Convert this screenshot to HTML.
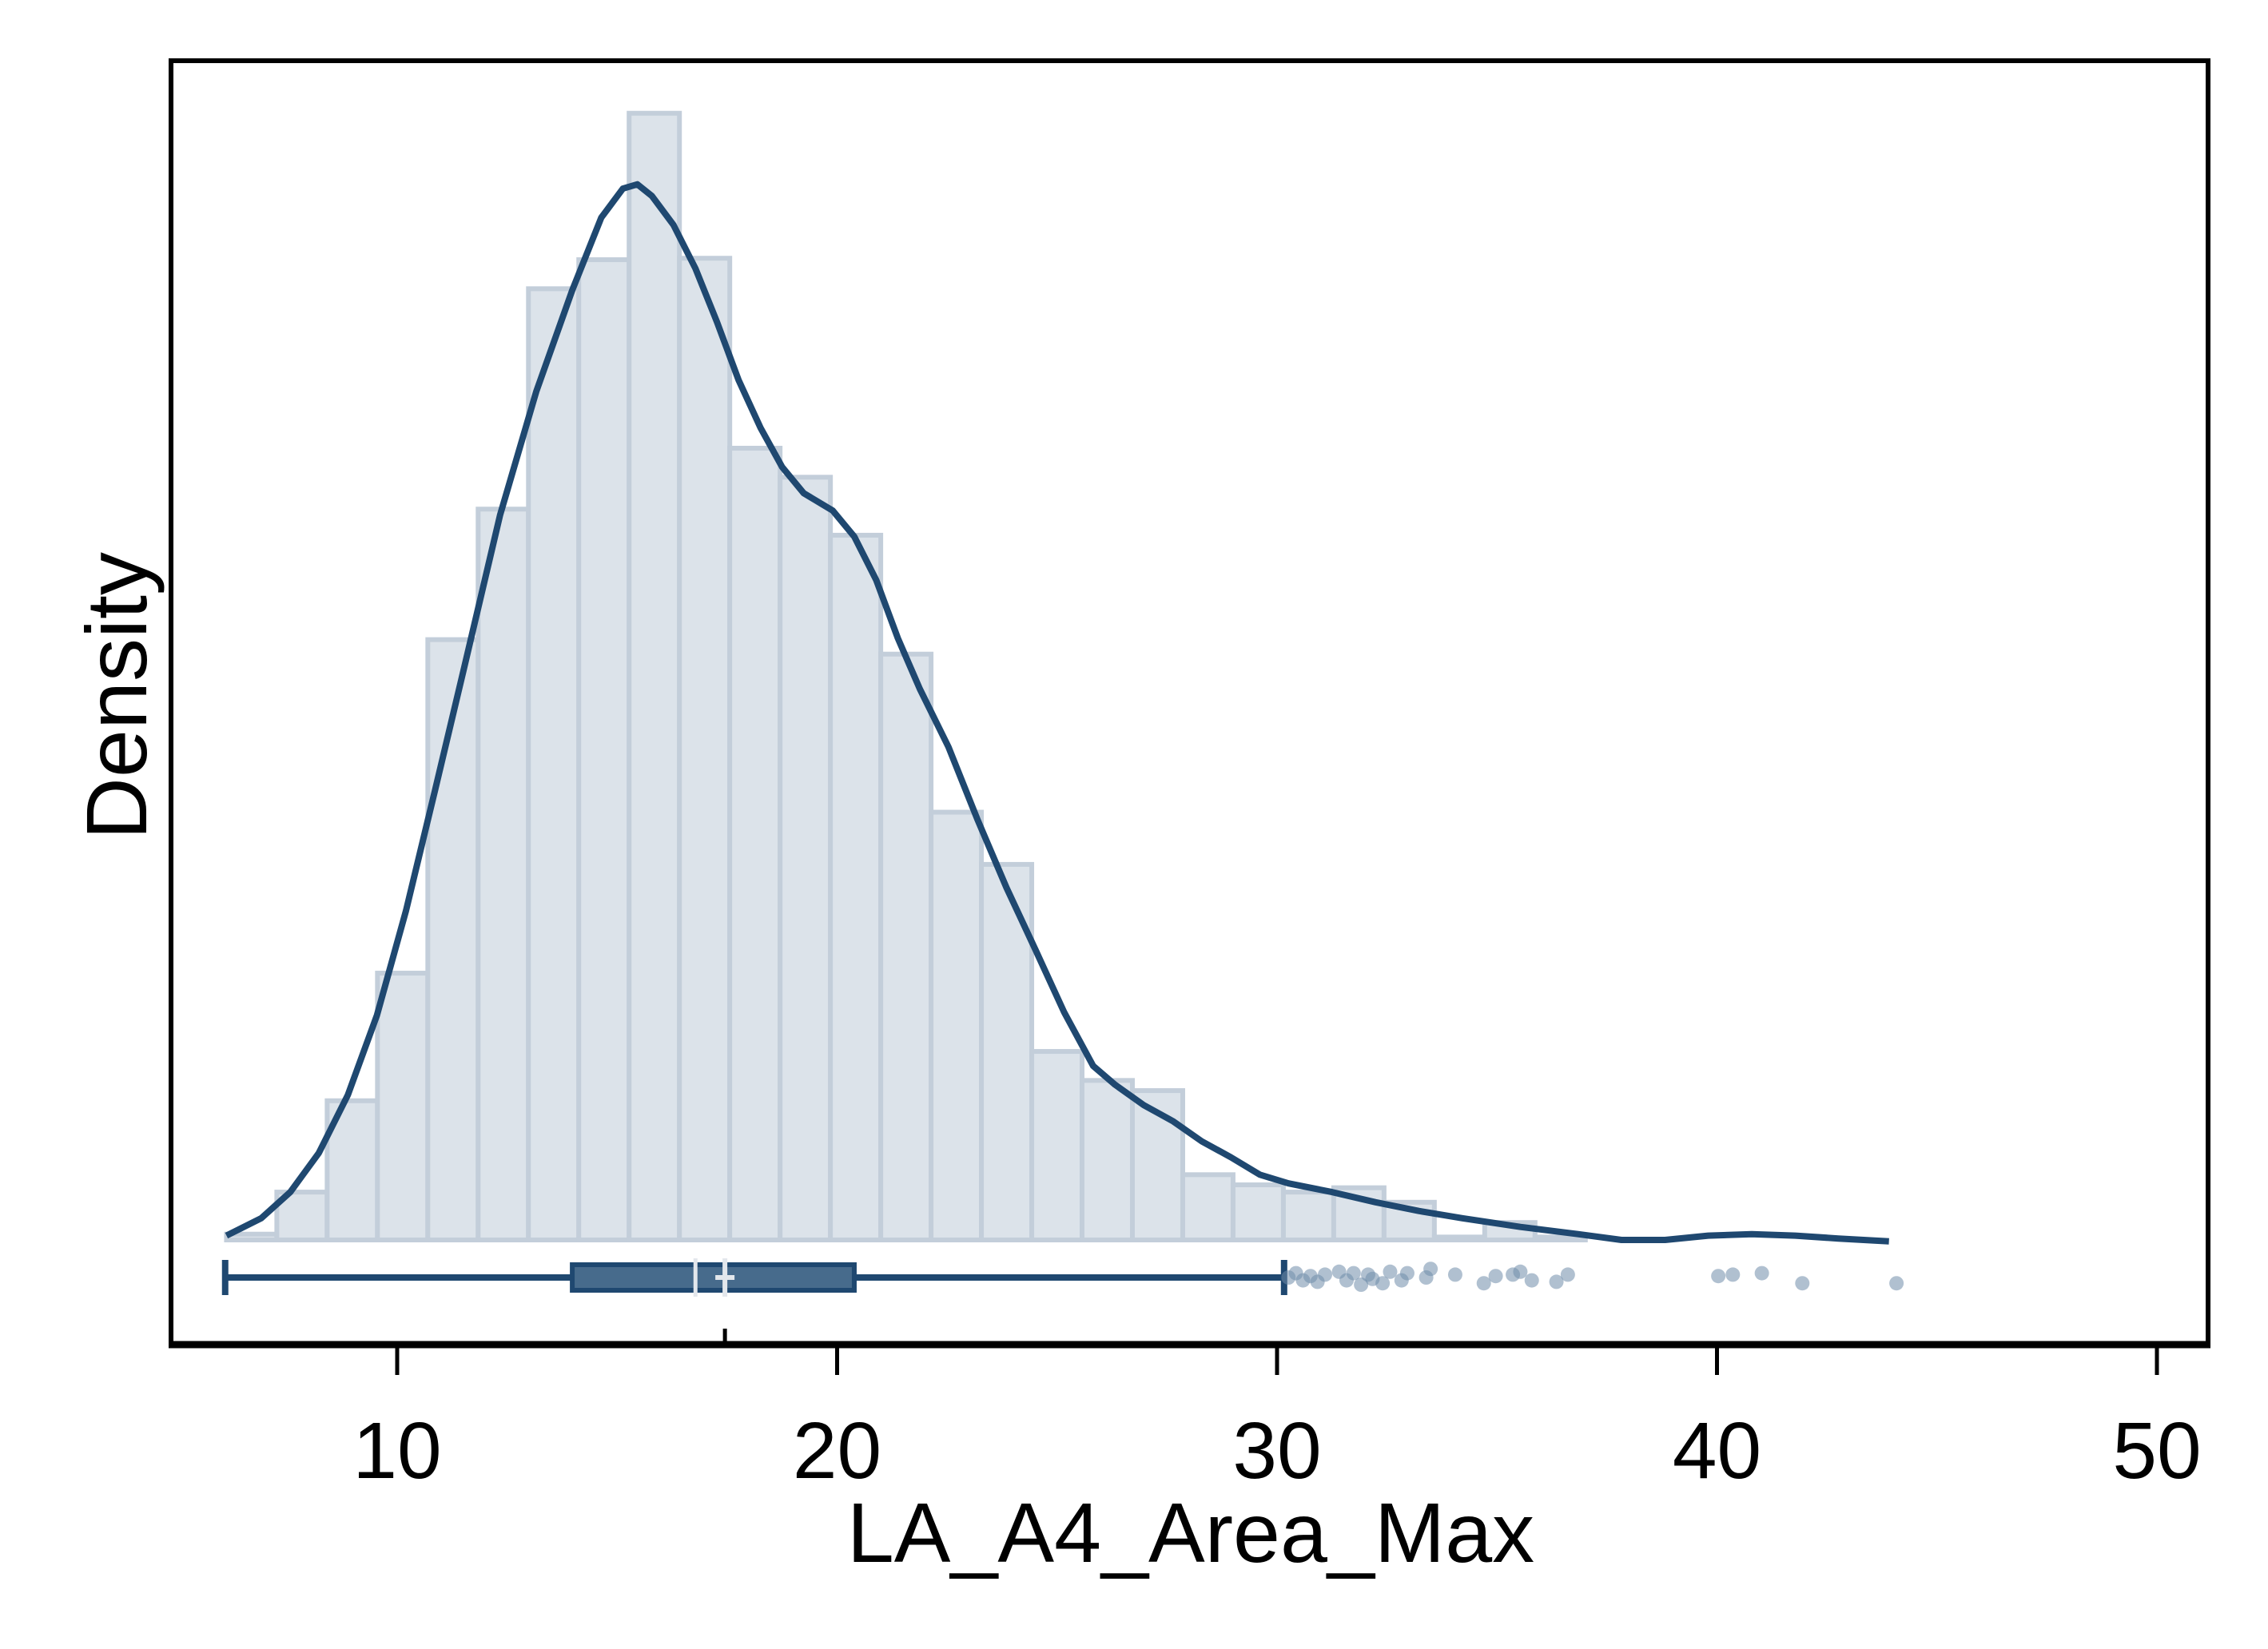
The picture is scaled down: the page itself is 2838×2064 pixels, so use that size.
<!DOCTYPE html>
<html><head><meta charset="utf-8"><style>
html,body{margin:0;padding:0;background:#fff}
svg{display:block}
text{font-family:"Liberation Sans",sans-serif;fill:#000}
</style></head><body>
<svg id="chart" xmlns="http://www.w3.org/2000/svg" width="2838" height="2064" viewBox="0 0 2838 2064">
<rect x="0" y="0" width="2838" height="2064" fill="#fff"/>
<g id="bars"></g>
<g id="kde"></g>
<g id="box"></g>
<g id="axes"></g>
<text x="1490" y="1955" font-size="106" text-anchor="middle">LA_A4_Area_Max</text>
<text transform="translate(183,871) rotate(-90)" font-size="108" text-anchor="middle">Density</text>
</svg>
<script>
const binStart = 6.12;
const binWidth = 1.144;
const binCounts = [4,33,96,184,414,504,656,676,777,677,546,526,486,404,295,259,130,110,103,45,38,33,36,26,2,12,2,0,0,0,0,0,0,0];
const kdeX = [6.12,6.91,7.57,8.22,8.88,9.54,10.20,10.86,11.51,12.34,13.16,13.98,14.64,15.13,15.46,15.79,16.28,16.78,17.27,17.76,18.26,18.75,19.24,19.90,20.39,20.89,21.38,21.88,22.53,23.19,23.85,24.51,25.16,25.82,26.32,26.97,27.63,28.29,28.95,29.61,30.26,31.25,32.24,33.22,34.21,35.53,36.84,37.83,38.82,39.80,40.79,41.78,42.76,43.91];
const kdeY = [3,15,33,60,100,155,227,310,393,500,585,655,705,725,728,720,700,670,633,593,560,533,515,503,485,455,415,380,340,290,243,200,157,120,107,93,82,68,57,45,39,33,26,20,15,9,4,0,0,3,4,3,1,-1];
const boxStats = [6.09, 13.98, 16.78, 20.39, 30.16];
const meanValue = 17.45;
const outliers = [30.26,30.43,30.59,30.76,30.92,31.09,31.41,31.58,31.74,31.91,32.07,32.17,32.40,32.57,32.83,32.96,33.39,33.49,34.05,34.70,34.97,35.36,35.53,35.79,36.35,36.61,40.03,40.36,41.02,41.94,44.08];
const outlierJitter = [0,-3,2,-1,3,-2,-4,2,-3,5,-2,1,4,-4,2,-3,0,-6,-2,4,-1,-2,-4,2,3,-2,-1,-2,-3,4,4];
const xTicks = [10,20,30,40,50];

const NS = "http://www.w3.org/2000/svg";
const X0 = 497, PXU = 55.05;
function xs(v){ return X0 + (v - 10) * PXU; }
const BASE = 1552, PYU = 1.815;
function ys(c){ return BASE - c * PYU; }
function mk(tag, attrs, parent){
  const e = document.createElementNS(NS, tag);
  for (const k in attrs) e.setAttribute(k, attrs[k]);
  parent.appendChild(e);
  return e;
}
const bars = document.getElementById('bars');
binCounts.forEach((c, i) => {
  if (c <= 0) return;
  const x1 = xs(binStart + i * binWidth), x2 = xs(binStart + (i + 1) * binWidth);
  const r = mk('rect', {x: x1, y: ys(c), width: x2 - x1, height: BASE - ys(c), fill: '#dce3ea', stroke: '#c3ceda', 'stroke-width': 6}, bars);
  
  
});
const kde = document.getElementById('kde');
let d = '';
kdeX.forEach((v, i) => { d += (i ? 'L' : 'M') + xs(v).toFixed(1) + ',' + ys(kdeY[i]).toFixed(1); });
const kp = mk('path', {d: d, fill: 'none', stroke: '#1f4870', 'stroke-width': 8, 'stroke-linejoin': 'round'}, kde);



const box = document.getElementById('box');
const BY = 1599;
const wl = mk('line', {x1: xs(boxStats[0]), x2: xs(boxStats[4]), y1: BY, y2: BY, stroke: '#1f4870', 'stroke-width': 8}, box);


[boxStats[0], boxStats[4]].forEach(v => {
  const c = mk('line', {x1: xs(v), x2: xs(v), y1: BY - 22, y2: BY + 22, stroke: '#1f4870', 'stroke-width': 8}, box);
  
  
});
const br = mk('rect', {x: xs(boxStats[1]), y: BY - 16, width: xs(boxStats[3]) - xs(boxStats[1]), height: 32, fill: '#476b8c', stroke: '#1f4870', 'stroke-width': 6}, box);


const md = mk('line', {x1: xs(boxStats[2]), x2: xs(boxStats[2]), y1: BY - 24, y2: BY + 24, stroke: '#e3e7ec', 'stroke-width': 5}, box);


const mv = mk('path', {d: 'M' + xs(meanValue) + ',' + (BY - 24) + 'V' + (BY + 24) + 'M' + (xs(meanValue) - 12) + ',' + BY + 'H' + (xs(meanValue) + 12), stroke: '#e3e7ec', 'stroke-width': 6, fill: 'none'}, box);


outliers.forEach((v, i) => {
  const c = mk('circle', {cx: xs(v), cy: BY + outlierJitter[i] * 1.8, r: 9, fill: '#6f8caa', 'fill-opacity': 0.55}, box);
  
  
});

const axes = document.getElementById('axes');
const fr = mk('rect', {x: 214, y: 76, width: 2549, height: 1607, fill: 'none', stroke: '#000', 'stroke-width': 6}, axes);


const xa = mk('line', {x1: 211, x2: 2766, y1: 1683, y2: 1683, stroke: '#000', 'stroke-width': 9}, axes);


xTicks.forEach(t => {
  const l = mk('line', {x1: xs(t), x2: xs(t), y1: 1683, y2: 1721, stroke: '#000', 'stroke-width': 5}, axes);
  
  
  const tx = mk('text', {x: xs(t), y: 1850, 'font-size': 100, 'text-anchor': 'middle'}, axes);
  tx.textContent = t;
  
  
});
const mt = mk('line', {x1: xs(meanValue), x2: xs(meanValue), y1: 1663, y2: 1683, stroke: '#000', 'stroke-width': 5}, axes);


</script>
</body></html>
